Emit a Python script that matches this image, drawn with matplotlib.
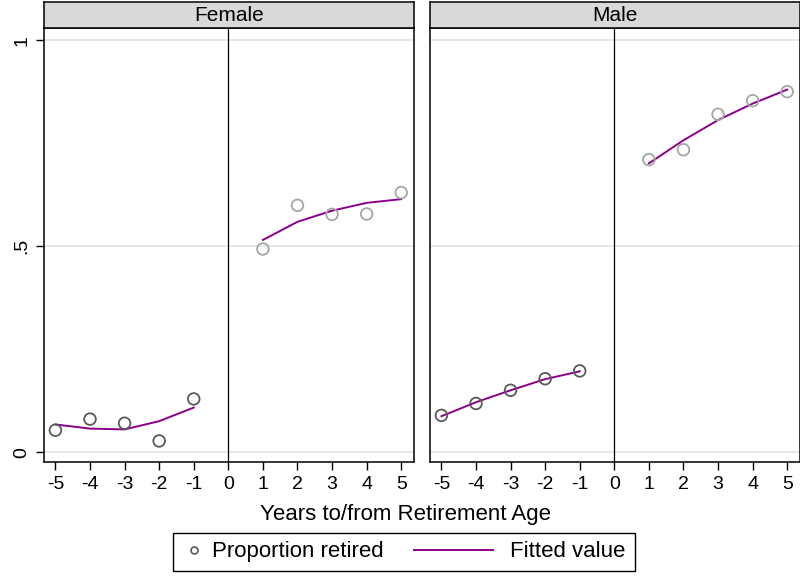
import matplotlib.pyplot as plt
from matplotlib.patches import Rectangle
import numpy as np

plt.rcParams['font.family'] = ['Liberation Sans', 'DejaVu Sans']

years_pre = [-5, -4, -3, -2, -1]
years_post = [1, 2, 3, 4, 5]

female_pre = [0.053, 0.080, 0.070, 0.027, 0.129]
female_post = [0.493, 0.599, 0.577, 0.578, 0.630]
female_fit_pre = [0.067, 0.057, 0.055, 0.075, 0.108]
female_fit_post = [0.515, 0.559, 0.586, 0.605, 0.614]

male_pre = [0.089, 0.118, 0.150, 0.178, 0.197]
male_post = [0.710, 0.734, 0.820, 0.853, 0.875]
male_fit_pre = [0.087, 0.121, 0.150, 0.177, 0.196]
male_fit_post = [0.701, 0.757, 0.806, 0.846, 0.880]

panels = ["Female", "Male"]
x_ticks = list(range(-5, 6))
y_ticks = [0, 0.5, 1]
y_labels = ["0", ".5", "1"]

purple = '#8b008b'
dark_grey = '#5a5a5a'
light_grey = '#a6a6a6'

fig = plt.figure(figsize=(8, 5.76), dpi=100)

data = [
    (female_pre, female_post, female_fit_pre, female_fit_post),
    (male_pre, male_post, male_fit_pre, male_fit_post),
]
lefts = [0.055, 0.5375]
width = 0.4625
bottom = 0.198
height = 0.753

for i, (name, (pre, post, fpre, fpost)) in enumerate(zip(panels, data)):
    ax = fig.add_axes([lefts[i], bottom, width, height])
    for yv in y_ticks:
        ax.axhline(yv, color='#e3e3e3', lw=1.2, zorder=0)
    ax.axvline(0, color='black', lw=0.9, zorder=1)
    ax.plot(years_pre, fpre, color=purple, lw=1.4, zorder=2)
    ax.plot(years_post, fpost, color=purple, lw=1.4, zorder=2)
    ax.scatter(years_pre, pre, s=70, facecolors='none', edgecolors=dark_grey, linewidths=1.3, zorder=3)
    ax.scatter(years_post, post, s=70, facecolors='none', edgecolors=light_grey, linewidths=1.3, zorder=3)
    ax.set_xlim(-5.33, 5.37)
    ax.set_ylim(-0.024, 1.029)
    ax.set_xticks(x_ticks)
    ax.set_xticklabels([str(t) for t in x_ticks], fontsize=14)
    ax.tick_params(axis='x', length=6, width=1, pad=4)
    if i == 0:
        ax.set_yticks(y_ticks)
        ax.set_yticklabels(y_labels, fontsize=14, rotation=90, va='center')
        ax.tick_params(axis='y', length=6, width=1, pad=4)
    else:
        ax.set_yticks([])
    for sp in ax.spines.values():
        sp.set_linewidth(1.1)

    strip = fig.add_axes([lefts[i], bottom + height, width, 0.0455])
    strip.set_facecolor('#d9d9d9')
    strip.set_xticks([])
    strip.set_yticks([])
    for sp in strip.spines.values():
        sp.set_linewidth(1.1)
    strip.text(0.5, 0.5, name, ha='center', va='center', fontsize=15, transform=strip.transAxes)

fig.text(0.5075, 0.106, "Years to/from Retirement Age", ha='center', va='center', fontsize=16)

# legend: box drawn by hand, two entries placed like Stata does
fig.patches.append(Rectangle((0.21625, 0.0087), 0.5775, 0.066, transform=fig.transFigure,
                             facecolor='white', edgecolor='black', lw=1.0))
h1 = plt.Line2D([], [], marker='o', ls='none', mfc='none', mec=dark_grey, ms=5, mew=1.2)
h2 = plt.Line2D([], [], color=purple, lw=1.4)
fig.legend([h1], ["Proportion retired"], loc='center left', bbox_to_anchor=(0.229, 0.0417),
           fontsize=16, frameon=False, handlelength=1.0, handletextpad=0.3,
           borderpad=0, borderaxespad=0)
fig.legend([h2], ["Fitted value"], loc='center left', bbox_to_anchor=(0.5175, 0.0417),
           fontsize=16, frameon=False, handlelength=3.56, handletextpad=0.75,
           borderpad=0, borderaxespad=0)

fig.savefig('out.png', dpi=100)
